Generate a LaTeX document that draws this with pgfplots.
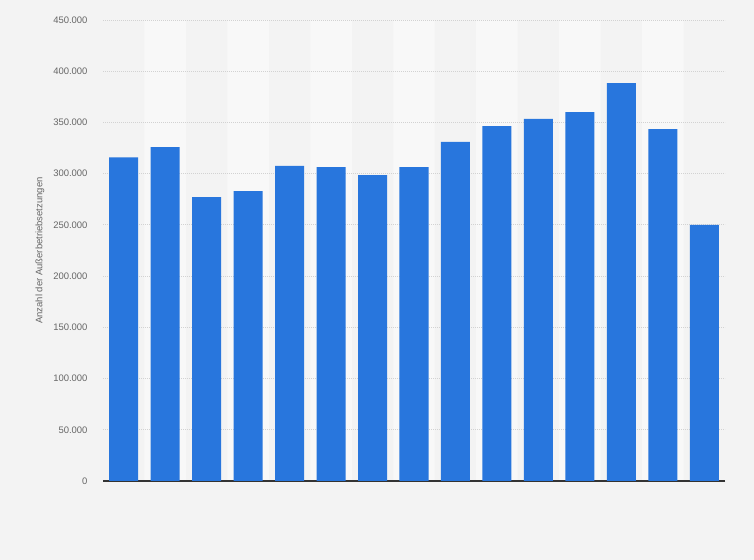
\documentclass[border=0pt]{standalone}
\usepackage{pgfplots}
\pgfplotsset{compat=1.18}
\usepackage{fontspec}
\setmainfont{Liberation Sans}
\definecolor{bg}{HTML}{F3F3F3}
\definecolor{band}{HTML}{F8F8F8}
\definecolor{barblue}{HTML}{2876DD}
\definecolor{txt}{HTML}{666666}
\definecolor{gridc}{HTML}{D2D2D2}
\pgfplotsset{
  frame/.style={
    at={(103bp,79bp)}, anchor=south west,
    scale only axis,
    width=622bp, height=461bp,
    xmin=0.5, xmax=15.5,
    ymin=0, ymax=450000,
  }
}
\begin{document}
\begin{tikzpicture}
\useasboundingbox (0,0) rectangle (754bp,560bp);
\fill[bg] (0,0) rectangle (754bp,560bp);
% alternating column bands, behind everything
\begin{axis}[frame, hide axis]
\addplot[ybar, bar width=1, bar shift=0pt, fill=band, draw=none]
  coordinates {(2,450000) (4,450000) (6,450000) (8,450000) (10,450000) (12,450000) (14,450000)};
\end{axis}
\begin{axis}[
    frame,
    xtick=\empty,
    ytick={0,50000,...,450000},
    scaled y ticks=false,
    /pgf/number format/.cd, fixed, 1000 sep={.}, assume math mode=true,
    /pgfplots/.cd,
    yticklabel style={font=\fontsize{9.5}{11}\selectfont, text=txt, xshift=-12bp},
    major tick length=0pt,
    axis x line*=bottom, axis y line*=left,
    y axis line style={draw=none},
    x axis line style={-, draw=black!80, line width=1.1bp},
    ymajorgrids,
    grid style={gridc, dash pattern=on 1bp off 1bp, line width=0.8bp},
    ylabel={Anzahl der Außerbetriebsetzungen},
    every axis y label/.style={at={(axis description cs:0,0.5)}, xshift=-63bp,
        rotate=90, anchor=center, font=\fontsize{9.5}{11}\selectfont, text=txt},
]
\addplot[ybar, bar width=0.7, bar shift=0pt, fill=barblue, draw=none]
  coordinates {
    (1,316000) (2,326000) (3,277000) (4,283000) (5,307500)
    (6,306500) (7,298500) (8,306500) (9,331000) (10,346500)
    (11,353500) (12,360000) (13,388500) (14,343500) (15,250000)
  };
\end{axis}
\end{tikzpicture}
\end{document}
